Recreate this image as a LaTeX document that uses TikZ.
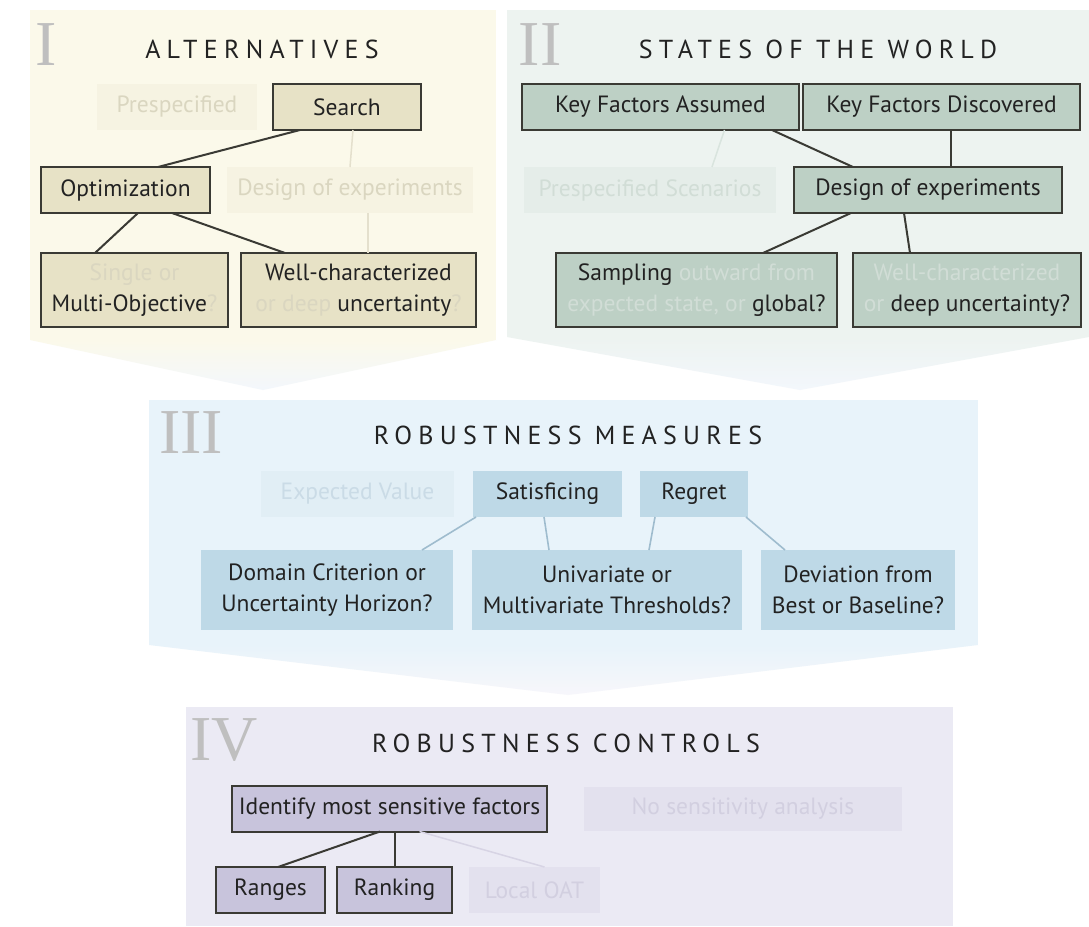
\documentclass[tikz,border=0pt]{standalone}
\usepackage{fontspec}
\setmainfont{PT Sans}
\newfontfamily\romanfont{Liberation Serif}
\newfontfamily\titlefont[LetterSpace=24]{PT Sans}
\definecolor{bgI}{HTML}{FBF9EA}
\definecolor{boxI}{HTML}{E7E2C6}
\definecolor{fboxI}{HTML}{F6F3E2}
\definecolor{ftxtI}{HTML}{DAD6C0}
\definecolor{bgII}{HTML}{EDF3F0}
\definecolor{boxII}{HTML}{BDD0C5}
\definecolor{fboxII}{HTML}{E5EDE9}
\definecolor{ftxtII}{HTML}{D1DDD6}
\definecolor{bgIII}{HTML}{E8F3FA}
\definecolor{boxIII}{HTML}{BED9E7}
\definecolor{fboxIII}{HTML}{E1EEF5}
\definecolor{ftxtIII}{HTML}{CADBE6}
\definecolor{lineIII}{HTML}{9FBCCE}
\definecolor{bgIV}{HTML}{EBEAF4}
\definecolor{boxIV}{HTML}{C8C4DC}
\definecolor{fboxIV}{HTML}{E3E1EE}
\definecolor{ftxtIV}{HTML}{D2CFE0}
\definecolor{ink}{HTML}{222222}
\definecolor{edge}{HTML}{3A3A34}
\definecolor{tip}{HTML}{F3F7FC}
\begin{document}
\begin{tikzpicture}[x=1pt,y=-1pt,
  every node/.style={inner sep=0pt, outer sep=0pt, text=ink, font=\fontsize{23.5}{31}\selectfont, align=center},
  dbox/.style={draw=edge, line width=2pt},
  conn/.style={draw=edge, line width=2pt},
  fconn/.style={draw=#1, line width=1.5pt},
  bconn/.style={draw=lineIII, line width=1.6pt},
  roman/.style={font=\romanfont\fontsize{64}{64}\selectfont, text=black!25},
  ttl/.style={font=\titlefont\fontsize{26}{26}\selectfont, text=ink}
]
\useasboundingbox (0,0) rectangle (1089,926);
\fill[white] (0,0) rectangle (1089,926);
% ---------- panel backgrounds
\fill[bgI] (30,10) rectangle (496,340);
\shade[top color=bgI, bottom color=tip] (30,340) -- (496,340) -- (263,390) -- cycle;
\fill[bgII] (507,10) rectangle (1089,337);
\shade[top color=bgII, bottom color=tip] (507,337) -- (1089,337) -- (800,390) -- cycle;
\fill[bgIII] (149,400) rectangle (978,645);
\shade[top color=bgIII, bottom color=white!60!bgIV] (149,645) -- (978,645) -- (568,695) -- cycle;
\fill[bgIV] (186,707) rectangle (953,926);

% ---------- Panel I
\node[roman] (rI) at (46,45) {I};
\node[ttl] (tI) at (262,49) {ALTERNATIVES};
\node[fill=fboxI, text=ftxtI, minimum width=160, minimum height=46] (presp) at (177,107) {Prespecified};
\node[dbox, fill=boxI, minimum width=148, minimum height=46] (search) at (347,107) {Search};
\node[dbox, fill=boxI, minimum width=169, minimum height=46] (opt) at (125.5,190) {Optimization};
\node[fill=fboxI, text=ftxtI, minimum width=246, minimum height=46] (doeI) at (350,190) {Design of experiments};
\node[dbox, fill=boxI, minimum width=187, minimum height=74] (single) at (134.5,290)
  {\textcolor{ftxtI}{Single or}\\Multi-Objective\textcolor{ftxtI}{?}};
\node[dbox, fill=boxI, minimum width=235, minimum height=74] (wellI) at (358.5,290)
  {Well-characterized\\\textcolor{ftxtI}{or deep} uncertainty\textcolor{ftxtI}{?}};
\draw[fconn=ftxtI!70!bgI] (search.south) ++(6,0) -- (doeI.north);
\draw[fconn=ftxtI!70!bgI] ([xshift=18]doeI.south) -- ([xshift=9.5]wellI.north);
\draw[conn] ([xshift=-47]search.south) -- ([xshift=32.5]opt.north);
\draw[conn] ([xshift=12.5]opt.south) -- ([xshift=-39.5]single.north);
\draw[conn] ([xshift=46.5]opt.south) -- ([xshift=-73.5]wellI.north);

% ---------- Panel II
\node[roman] (rII) at (540,45) {II};
\node[ttl] (tII) at (818,49) {STATES OF THE WORLD};
\node[dbox, fill=boxII, minimum width=277, minimum height=46] (kfa) at (660.5,107) {Key Factors Assumed};
\node[dbox, fill=boxII, minimum width=277, minimum height=46] (kfd) at (941.5,107) {Key Factors Discovered};
\node[fill=fboxII, text=ftxtII, minimum width=252, minimum height=46] (pscen) at (650,190) {Prespecified Scenarios};
\node[dbox, fill=boxII, minimum width=268, minimum height=46] (doeII) at (928,190) {Design of experiments};
\node[dbox, fill=boxII, minimum width=281, minimum height=74] (samp) at (696.5,290)
  {Sampling \textcolor{ftxtII}{outward from}\\\textcolor{ftxtII}{expected state, or} global?};
\node[dbox, fill=boxII, minimum width=228, minimum height=74] (wellII) at (967,290)
  {\textcolor{ftxtII}{Well-characterized}\\\textcolor{ftxtII}{or} deep uncertainty?};
\draw[fconn=ftxtII!70!bgII] ([xshift=64]kfa.south) -- ([xshift=62]pscen.north);
\draw[conn] ([xshift=111.5]kfa.south) -- ([xshift=-75]doeII.north);
\draw[conn] ([xshift=9.5]kfd.south) -- ([xshift=23]doeII.north);
\draw[conn] ([xshift=-77]doeII.south) -- ([xshift=66.5]samp.north);
\draw[conn] ([xshift=-24]doeII.south) -- ([xshift=-57]wellII.north);

% ---------- Panel III
\node[roman] (rIII) at (191,433) {III};
\node[ttl] (tIII) at (568,435) {ROBUSTNESS MEASURES};
\node[fill=fboxIII, text=ftxtIII, minimum width=193, minimum height=46] (ev) at (357.5,494) {Expected Value};
\node[fill=boxIII, minimum width=149, minimum height=46] (sat) at (547.5,494) {Satisficing};
\node[fill=boxIII, minimum width=108, minimum height=46] (reg) at (694,494) {Regret};
\node[fill=boxIII, minimum width=252, minimum height=80] (dom) at (327,590) {Domain Criterion or\\Uncertainty Horizon?};
\node[fill=boxIII, minimum width=270, minimum height=80] (uni) at (607,590) {Univariate or\\Multivariate Thresholds?};
\node[fill=boxIII, minimum width=194, minimum height=80] (dev) at (858,590) {Deviation from\\Best or Baseline?};
\draw[bconn] ([xshift=3]sat.south west) -- ([xshift=95]dom.north);
\draw[bconn] ([xshift=-3.5]sat.south) -- ([xshift=-58]uni.north);
\draw[bconn] ([xshift=-39]reg.south) -- ([xshift=42]uni.north);
\draw[bconn] ([xshift=-2]reg.south east) -- ([xshift=-73]dev.north);

% ---------- Panel IV
\node[roman] (rIV) at (224,740) {IV};
\node[ttl] (tIV) at (566,743) {ROBUSTNESS CONTROLS};
\node[dbox, fill=boxIV, minimum width=315, minimum height=46] (ident) at (389.5,808.5) {Identify most sensitive factors};
\node[fill=fboxIV, text=ftxtIV, minimum width=318, minimum height=44] (nosens) at (743,808.5) {No sensitivity analysis};
\node[dbox, fill=boxIV, minimum width=109, minimum height=46] (ranges) at (270.5,890) {Ranges};
\node[dbox, fill=boxIV, minimum width=115, minimum height=46] (ranking) at (394.5,890) {Ranking};
\node[fill=fboxIV, text=ftxtIV, minimum width=131, minimum height=46] (loat) at (534.5,890) {Local OAT};
\draw[fconn=ftxtIV!80!bgIV] ([xshift=30]ident.south) -- ([xshift=10]loat.north);
\draw[conn] ([xshift=-9.5]ident.south) -- ([xshift=7.5]ranges.north);
\draw[conn] (ident.south -| ranking.north) -- (ranking.north);
\end{tikzpicture}
\end{document}
